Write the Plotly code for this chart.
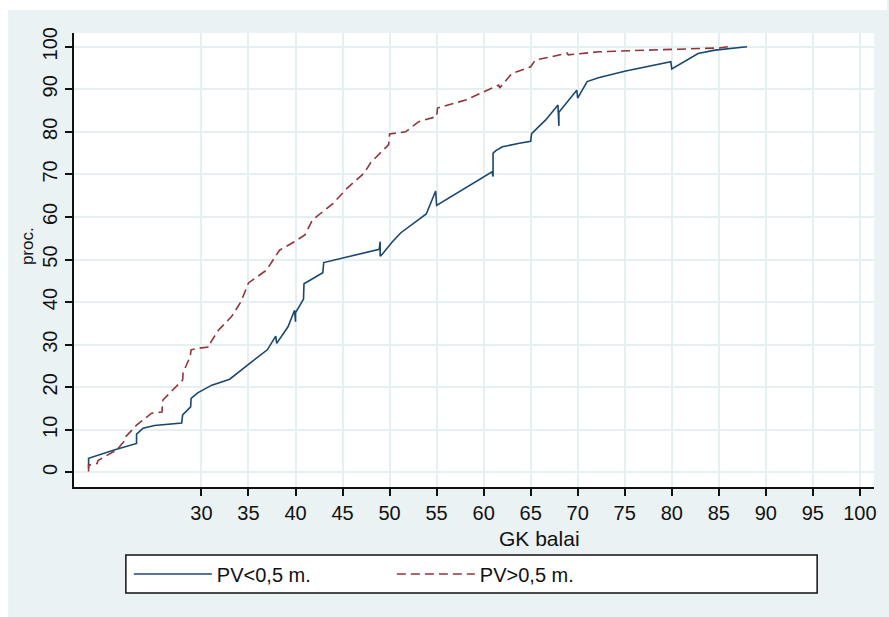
import plotly.graph_objects as go

# Cumulative share of respondents (proc.) by GK score, split by PV group
gk_low = [18.0, 18.0, 20.8, 22.9, 23.1, 23.1, 23.8, 25.0, 27.9, 28.0, 28.85, 28.9,
          29.6, 31.1, 33.0, 34.9, 37.0, 37.9, 38.0, 39.2, 39.9, 40.0, 40.0, 40.85,
          40.9, 42.9, 43.0, 48.9, 49.0, 49.0, 49.2, 50.3, 51.2, 53.9, 54.9, 55.0,
          60.9, 61.0, 61.0, 61.3, 62.0, 63.8, 65.0, 65.1, 66.6, 67.9, 68.0, 68.0,
          69.9, 70.0, 71.0, 72.2, 75.1, 79.9, 80.0, 82.8, 84.6, 88.0]
pct_low = [1.0, 3.3, 5.3, 6.7, 6.8, 9.0, 10.4, 11.0, 11.6, 13.5, 15.4, 17.4,
           18.7, 20.5, 21.9, 25.2, 28.8, 32.0, 30.3, 34.2, 38.1, 35.4, 37.5, 40.7,
           44.3, 46.9, 49.3, 52.4, 54.2, 50.8, 51.2, 54.2, 56.3, 60.7, 66.1, 62.7,
           70.6, 69.5, 75.0, 75.6, 76.5, 77.3, 77.8, 79.6, 82.8, 86.3, 81.4, 84.6,
           89.8, 87.9, 91.8, 92.7, 94.3, 96.5, 94.8, 98.4, 99.2, 100.0]

gk_high = [18.0, 18.0, 18.9, 19.0, 21.0, 21.9, 22.0, 23.1, 24.7, 25.8, 25.9, 27.0,
           28.0, 28.05, 28.8, 28.9, 29.8, 30.9, 31.0, 31.8, 33.2, 34.2, 34.9, 35.0,
           36.9, 38.3, 39.9, 41.0, 41.8, 44.0, 45.5, 47.3, 48.0, 49.1, 49.9, 50.0,
           51.7, 53.1, 55.0, 55.1, 58.1, 60.0, 61.6, 61.7, 63.0, 65.0, 65.5, 67.3,
           68.9, 69.0, 72.2, 77.5, 82.1, 85.0, 86.0, 86.5]
pct_high = [0.2, 1.7, 2.1, 2.8, 5.3, 7.6, 8.5, 11.1, 13.9, 14.2, 17.0, 19.4,
            21.7, 23.5, 27.2, 28.8, 29.2, 29.5, 30.6, 33.4, 36.6, 40.1, 43.6, 44.5,
            47.5, 52.2, 54.2, 55.8, 59.3, 63.2, 66.8, 70.3, 72.8, 75.2, 77.0, 79.5,
            80.0, 82.4, 83.6, 85.6, 87.5, 89.4, 91.0, 90.3, 93.7, 95.3, 96.9, 97.7,
            98.5, 98.1, 98.8, 99.2, 99.5, 99.7, 100.0, 100.0]

series_names = ["PV<0,5 m.", "PV>0,5 m."]
x_ticks = [30, 35, 40, 45, 50, 55, 60, 65, 70, 75, 80, 85, 90, 95, 100]
y_ticks = [0, 10, 20, 30, 40, 50, 60, 70, 80, 90, 100]
x_title = "GK balai"
y_title = "proc."

BG = "#EAF2F3"
FONT = "Arial, Liberation Sans, sans-serif"

# figure geometry (px)
W, H = 889, 617
L, R, T, B = 74, 13, 33, 130
PW, PH = W - L - R, H - T - B


def px_x(p):
    return (p - L) / PW


def px_y(p):
    return (H - B - p) / PH


fig = go.Figure()
fig.add_trace(go.Scatter(
    x=gk_low, y=pct_low, mode="lines", name=series_names[0],
    line=dict(color="#1a476f", width=1.6),
))
fig.add_trace(go.Scatter(
    x=gk_high, y=pct_high, mode="lines", name=series_names[1],
    line=dict(color="#90353b", width=1.6, dash="9px,5px"),
))

axis_common = dict(
    showline=True, linecolor="#111111", linewidth=1.5,
    ticks="outside", ticklen=7, tickwidth=1.5, tickcolor="#111111",
    showgrid=True, gridcolor="#E6EFF1", gridwidth=1.5,
    zeroline=False,
    tickfont=dict(family=FONT, size=20, color="#111111"),
)

fig.update_xaxes(range=[16.45, 101.5], tickvals=x_ticks, **axis_common)
fig.update_yaxes(range=[-3.43, 103.22], tickvals=y_ticks, tickangle=-90, **axis_common)

shapes = [
    # white strips along the top and left edges
    dict(type="rect", xref="paper", yref="paper", x0=px_x(0), x1=px_x(W),
         y0=px_y(10), y1=px_y(0), fillcolor="white", line=dict(width=0), layer="above"),
    dict(type="rect", xref="paper", yref="paper", x0=px_x(0), x1=px_x(8),
         y0=px_y(H), y1=px_y(0), fillcolor="white", line=dict(width=0), layer="above"),
    # legend frame
    dict(type="rect", xref="paper", yref="paper", x0=px_x(126), x1=px_x(819),
         y0=px_y(593), y1=px_y(555), fillcolor="white",
         line=dict(color="#111111", width=1.5), layer="above"),
]

annotations = [
    dict(text=x_title, xref="paper", yref="paper", x=px_x(541), y=px_y(538),
         xanchor="center", yanchor="middle", showarrow=False,
         font=dict(family=FONT, size=21, color="#111111")),
    dict(text=y_title, xref="paper", yref="paper", x=px_x(27), y=px_y(246),
         xanchor="center", yanchor="middle", showarrow=False, textangle=-90,
         font=dict(family=FONT, size=17, color="#111111")),
]

fig.update_layout(
    width=W, height=H,
    margin=dict(l=L, r=R, t=T, b=B, pad=0),
    paper_bgcolor=BG, plot_bgcolor="white",
    shapes=shapes, annotations=annotations,
    showlegend=True,
    legend=dict(
        orientation="h", x=px_x(129), y=px_y(574), xanchor="left", yanchor="middle",
        bgcolor="rgba(0,0,0,0)", borderwidth=0,
        entrywidth=170, entrywidthmode="pixels", itemwidth=78,
        font=dict(family=FONT, size=20, color="#111111"),
    ),
)

fig.write_html("out.html")
